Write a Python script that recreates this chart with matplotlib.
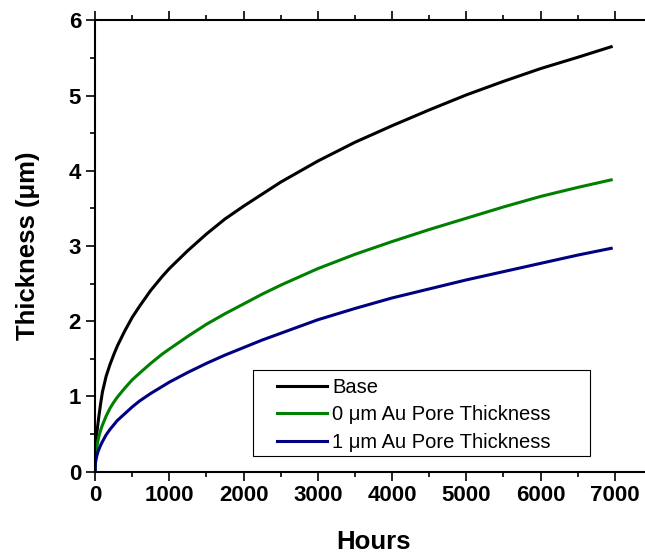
import matplotlib
matplotlib.use("Agg")
import matplotlib.pyplot as plt
from matplotlib.patches import Rectangle
from matplotlib.ticker import MultipleLocator

plt.rcParams['font.family'] = ['Liberation Sans', 'DejaVu Sans']

# oxide thickness vs exposure time
hours = [0, 2, 5, 10, 20, 35, 50, 75, 100, 150, 200, 250, 300, 400, 500, 600,
         750, 900, 1000, 1250, 1500, 1750, 2000, 2250, 2500, 2750, 3000, 3500,
         4000, 4500, 5000, 5500, 6000, 6500, 6950]
base = [0, 0.18, 0.27, 0.37, 0.48, 0.60, 0.72, 0.90, 1.06, 1.27, 1.42, 1.55,
        1.67, 1.87, 2.05, 2.20, 2.41, 2.59, 2.70, 2.94, 3.16, 3.36, 3.53, 3.69,
        3.85, 3.99, 4.13, 4.38, 4.60, 4.81, 5.01, 5.19, 5.36, 5.51, 5.65]
au_0um = [0, 0.11, 0.16, 0.22, 0.30, 0.39, 0.46, 0.55, 0.62, 0.74, 0.84, 0.92,
          0.99, 1.11, 1.22, 1.31, 1.44, 1.56, 1.63, 1.80, 1.96, 2.10, 2.23,
          2.36, 2.48, 2.59, 2.70, 2.89, 3.06, 3.22, 3.37, 3.52, 3.66, 3.78, 3.88]
au_1um = [0, 0.06, 0.10, 0.14, 0.19, 0.25, 0.29, 0.35, 0.40, 0.49, 0.56, 0.62,
          0.68, 0.77, 0.86, 0.94, 1.04, 1.13, 1.19, 1.32, 1.44, 1.55, 1.65,
          1.75, 1.84, 1.93, 2.02, 2.17, 2.31, 2.43, 2.55, 2.66, 2.77, 2.88, 2.97]

labels = ['Base', '0 \u03bcm Au Pore Thickness', '1 \u03bcm Au Pore Thickness']
colors = ['black', '#008000', '#000080']

W, H = 645, 554
fig = plt.figure(figsize=(W / 100, H / 100), dpi=100)
ax = fig.add_axes([0.1473, 0.1486, 0.8636, 0.8145])

for y, lab, c in zip([base, au_0um, au_1um], labels, colors):
    ax.plot(hours, y, color=c, lw=2.2, label=lab)

ax.set_xlim(0, 7500)
ax.set_ylim(0, 6)
ax.xaxis.set_major_locator(MultipleLocator(1000))
ax.xaxis.set_minor_locator(MultipleLocator(500))
ax.yaxis.set_major_locator(MultipleLocator(1))
ax.yaxis.set_minor_locator(MultipleLocator(0.5))

for s in ax.spines.values():
    s.set_linewidth(1.5)
ax.tick_params(which='both', direction='out', top=True, width=1.2)
ax.tick_params(which='major', length=6.5)
ax.tick_params(which='minor', length=3.6)
ax.tick_params(axis='x', which='major', pad=3)
ax.tick_params(axis='y', which='major', pad=3.5)
for t in ax.get_xticklabels() + ax.get_yticklabels():
    t.set_fontsize(16)
    t.set_fontweight('bold')

ax.set_xlabel('Hours', fontsize=18.5, fontweight='bold')
ax.set_ylabel('Thickness (\u03bcm)', fontsize=18.5, fontweight='bold')
ax.xaxis.label.set_verticalalignment('center')
ax.xaxis.set_label_coords(0.5, -0.156)
ax.yaxis.label.set_verticalalignment('center')
ax.yaxis.set_label_coords(-0.121, 0.5)

# legend entries without their own frame, boxed by a plain rectangle
leg = ax.legend(loc='upper left', bbox_to_anchor=(277 / W, 1 - 378 / H),
                bbox_transform=fig.transFigure, borderaxespad=0, borderpad=0,
                fontsize=14.5, handlelength=2.5, handletextpad=0.25,
                labelspacing=0.42, frameon=False)
fig.patches.append(Rectangle((253 / W, 1 - 456 / H), 337 / W, 86 / H,
                             transform=fig.transFigure, fill=False,
                             edgecolor='black', linewidth=0.8, zorder=5))

fig.savefig('out.png', dpi=100)
